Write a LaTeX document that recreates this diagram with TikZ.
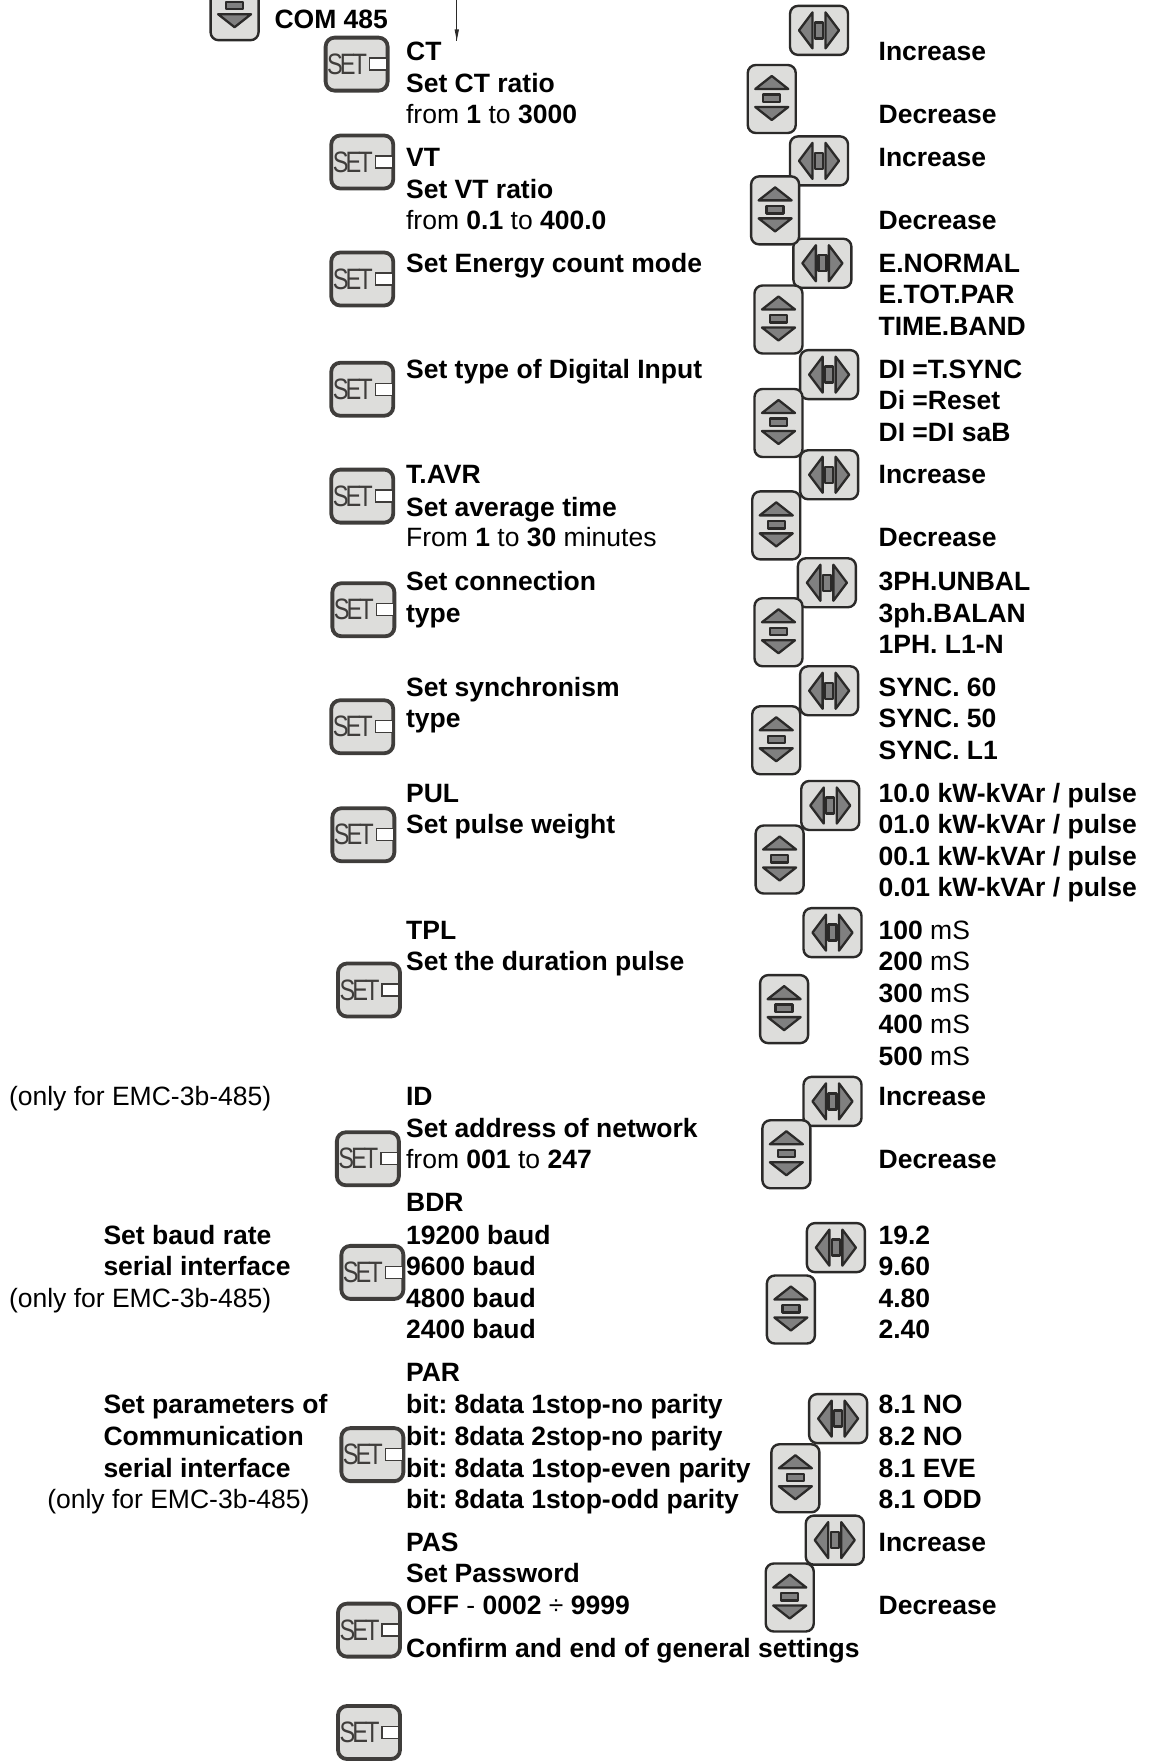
\documentclass[tikz,border=0pt]{standalone}
\usepackage{fontspec}
\setmainfont{Liberation Sans}
\newfontfamily\setlabfont[FakeStretch=0.8,LetterSpace=-10]{Liberation Sans}
\definecolor{btnfill}{HTML}{DDDDDB}
\definecolor{btnline}{HTML}{2B2A29}
\definecolor{btnsetline}{HTML}{3F3D3B}
\definecolor{btntri}{HTML}{808080}
\frenchspacing
\tikzset{
  lab/.style={anchor=base west,inner sep=0pt,outer sep=0pt,font=\fontsize{26.5}{31}\selectfont,text=black},
  blab/.style={lab,font=\fontsize{26.5}{31}\selectfont\bfseries},
  marker/.style={fill=btntri,draw=btnline,line width=2.3pt,line join=round},
  setbutton/.pic={
    \draw[fill=btnfill,draw=btnsetline,line width=3.8pt,rounded corners=9pt] (-31pt,-26.5pt) rectangle (31pt,26.5pt);
    \node[inner sep=0pt,text=btnsetline,font=\fontsize{29.5}{29.5}\setlabfont] at (-9.5pt,0pt) {SET};
    \draw[fill=white,draw=btnsetline,line width=1.3pt] (13pt,-6pt) rectangle (30pt,6pt);
  },
  lrbutton/.pic={
    \draw[fill=btnfill,draw=btnline,line width=2.4pt,rounded corners=8pt] (-29pt,-24.5pt) rectangle (29pt,24.5pt);
    \path[marker] (-20pt,0pt) -- (-6.5pt,18pt) -- (-6.5pt,-18pt) -- cycle;
    \path[marker] (20pt,0pt) -- (6.5pt,18pt) -- (6.5pt,-18pt) -- cycle;
    \path[marker] (-4pt,-8pt) rectangle (4pt,8pt);
  },
  udbutton/.pic={
    \draw[fill=btnfill,draw=btnline,line width=2.4pt,rounded corners=8pt] (-24pt,-34pt) rectangle (24pt,34pt);
    \path[marker] (0pt,23pt) -- (16.5pt,10pt) -- (-16.5pt,10pt) -- cycle;
    \path[marker] (0pt,-21pt) -- (16.5pt,-8pt) -- (-16.5pt,-8pt) -- cycle;
    \path[marker] (-8.5pt,-3pt) rectangle (8.5pt,4.5pt);
  },
}
\begin{document}
\begin{tikzpicture}[x=1.12488pt,y=-1.12488pt]
\useasboundingbox (0,0) rectangle (1025,1568);
% arrow
\coordinate (arrowtop) at (406,0);
\coordinate (arrowend) at (406,36);
\draw[line width=0.6pt,draw=btnline] (arrowtop) -- (arrowend);
\path[fill=btnline] (404,26) -- (408,26) -- (406,36) -- cycle;
% buttons
\pic (udtop) at (208.5,5.5) {udbutton};
\foreach \n/\x/\y in {1/317/57,2/322/144,3/322/248,4/322/346,5/322/441,6/323/542,7/322/646,8/323/742,9/328/880,10/327/1030,11/331/1131,12/331/1293,13/328/1449,14/328/1540}
  \pic (set\n) at (\x,\y) {setbutton};
\foreach \n/\x/\y in {1/728/27,2/728/143,3/731/234,4/737/333,5/737/422,6/735/518,7/737/614,8/738/716,9/740/829,10/740/979,11/743/1109,12/745/1261,13/742/1369}
  \pic (lr\n) at (\x,\y) {lrbutton};
\foreach \n/\x/\y in {1/686/88,2/689/187,3/692/284,4/692/376,5/690/467,6/692/562,7/690/658,8/693/764,9/697/897,10/699/1026,11/703/1164,12/707/1314,13/702/1420}
  \pic (ud\n) at (\x,\y) {udbutton};
% left labels
\node[blab] (com) at (244,25) {COM 485};
\node[lab] (o1) at (8,983) {(only for EMC-3b-485)};
\node[blab] (b1) at (92,1106) {Set baud rate};
\node[blab] (b2) at (92,1134) {serial interface};
\node[lab] (o2) at (8,1162) {(only for EMC-3b-485)};
\node[blab] (c1) at (92,1256) {Set parameters of};
\node[blab] (c2) at (92,1285) {Communication};
\node[blab] (c3) at (92,1313) {serial interface};
\node[lab] (o3) at (42,1341) {(only for EMC-3b-485)};
% middle labels
\node[blab] (m1) at (361,54) {CT};
\node[blab] (m2) at (361,82) {Set CT ratio};
\node[lab] (m3) at (361,110) {from \textbf{1} to \textbf{3000}};
\node[blab] (m4) at (361,148) {VT};
\node[blab] (m5) at (361,176) {Set VT ratio};
\node[lab] (m6) at (361,204) {from \textbf{0.1} to \textbf{400.0}};
\node[blab] (m7) at (361,242) {Set Energy count mode};
\node[blab] (m8) at (361,336) {Set type of Digital Input};
\node[blab] (m9) at (361,430) {T.AVR};
\node[blab] (m10) at (361,459) {Set average time};
\node[lab] (m11) at (361,486) {From \textbf{1} to \textbf{30} minutes};
\node[blab] (m12) at (361,525) {Set connection};
\node[blab] (m13) at (361,553) {type};
\node[blab] (m14) at (361,619) {Set synchronism};
\node[blab] (m15) at (361,647) {type};
\node[blab] (m16) at (361,713) {PUL};
\node[blab] (m17) at (361,741) {Set pulse weight};
\node[blab] (m18) at (361,835) {TPL};
\node[blab] (m19) at (361,863) {Set the duration pulse};
\node[blab] (m20) at (361,983) {ID};
\node[blab] (m21) at (361,1011) {Set address of network};
\node[lab] (m22) at (361,1039) {from \textbf{001} to \textbf{247}};
\node[blab] (m23) at (361,1077) {BDR};
\node[blab] (m24) at (361,1106) {19200 baud};
\node[blab] (m25) at (361,1134) {9600 baud};
\node[blab] (m26) at (361,1162) {4800 baud};
\node[blab] (m27) at (361,1190) {2400 baud};
\node[blab] (m28) at (361,1228) {PAR};
\node[blab] (m29) at (361,1256) {bit: 8data 1stop-no parity};
\node[blab] (m30) at (361,1285) {bit: 8data 2stop-no parity};
\node[blab] (m31) at (361,1313) {bit: 8data 1stop-even parity};
\node[blab] (m32) at (361,1341) {bit: 8data 1stop-odd parity};
\node[blab] (m33) at (361,1379) {PAS};
\node[blab] (m34) at (361,1407) {Set Password};
\node[lab] (m35) at (361,1435) {\textbf{OFF} - \textbf{0002} ÷ \textbf{9999}};
\node[blab] (m36) at (361,1473) {Confirm and end of general settings};
% right labels
\foreach \n/\y/\t in {1/54/Increase,2/110/Decrease,3/148/Increase,4/204/Decrease,5/242/E.NORMAL,6/270/E.TOT.PAR,7/298/TIME.BAND,8/336/DI =T.SYNC,9/364/Di =Reset,10/392/DI =DI saB,11/430/Increase,12/486/Decrease,13/525/3PH.UNBAL,14/553/3ph.BALAN,15/581/1PH. L1-N,16/619/SYNC. 60,17/647/SYNC. 50,18/675/SYNC. L1,19/713/{10.0 kW-kVAr / pulse},20/741/{01.0 kW-kVAr / pulse},21/769/{00.1 kW-kVAr / pulse},22/797/{0.01 kW-kVAr / pulse},23/983/Increase,24/1039/Decrease,25/1106/19.2,26/1134/9.60,27/1162/4.80,28/1190/2.40,29/1256/8.1 NO,30/1285/8.2 NO,31/1313/8.1 EVE,32/1341/8.1 ODD,33/1379/Increase,34/1435/Decrease}
  \node[blab] (r\n) at (781,\y) {\t};
\foreach \n/\y/\t in {100/835/100,200/863/200,300/891/300,400/919/400,500/947/500}
  \node[lab] (ms\n) at (781,\y) {\textbf{\t} mS};
\end{tikzpicture}
\end{document}
